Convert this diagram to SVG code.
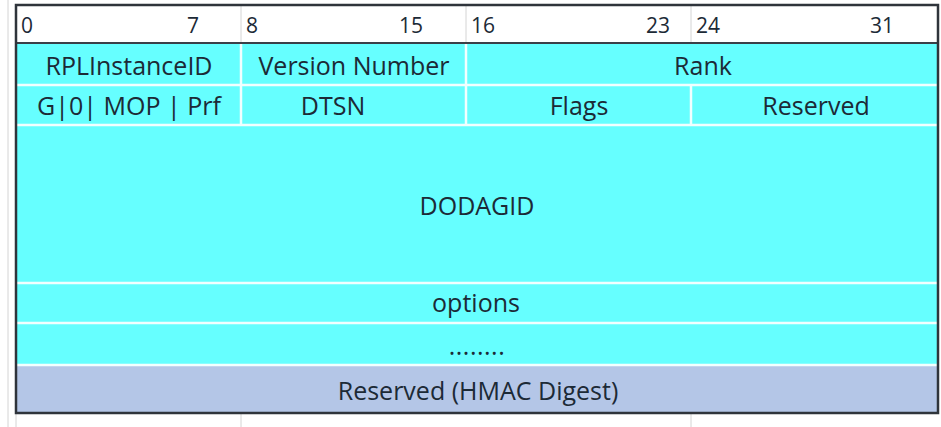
<svg xmlns="http://www.w3.org/2000/svg" width="941" height="427" viewBox="0 0 941 427">
  <style>
    .hdr { fill: #ffffff; }
    .cell { fill: #66ffff; }
    .hmac { fill: #b4c6e7; }
    .sep { stroke: #f2ffff; stroke-width: 2.5; }
    .grid { stroke: #d4d4d4; stroke-width: 1; }
    text { font-family: "Open Sans", Lato, "Liberation Sans", sans-serif; font-size: 25px; fill: #1c2a36; }
    .num { font-size: 21px; }
    .mid { text-anchor: middle; }
    .end { text-anchor: end; }
  </style>

  <!-- page background with faint sheet grid -->
  <rect x="0" y="0" width="941" height="427" fill="#ffffff"/>
  <g id="sheet-grid">
    <line class="grid" x1="8" y1="0" x2="8" y2="427"/>
    <line class="grid" x1="16" y1="413" x2="16" y2="427"/>
    <line class="grid" x1="241" y1="413" x2="241" y2="427"/>
    <line class="grid" x1="691" y1="413" x2="691" y2="427"/>
  </g>

  <!-- bit ruler -->
  <g id="ruler">
    <rect class="hdr" x="16" y="5" width="922" height="38"/>
    <line class="grid" x1="241" y1="5" x2="241" y2="43"/>
    <line class="grid" x1="466" y1="5" x2="466" y2="43"/>
    <line class="grid" x1="691" y1="5" x2="691" y2="43"/>
    <text class="num" x="21" y="33">0</text>
    <text class="num end" x="199" y="33">7</text>
    <text class="num" x="246" y="33">8</text>
    <text class="num end" x="423" y="33">15</text>
    <text class="num" x="471" y="33">16</text>
    <text class="num end" x="670" y="33">23</text>
    <text class="num" x="696" y="33">24</text>
    <text class="num end" x="894" y="33">31</text>
  </g>

  <g id="rplinstanceid">
    <rect class="cell" x="16" y="43" width="225" height="42"/>
    <text class="mid" x="129" y="75">RPLInstanceID</text>
  </g>
  <g id="version-number">
    <rect class="cell" x="241" y="43" width="225" height="42"/>
    <text class="mid" x="354" y="75">Version Number</text>
  </g>
  <g id="rank">
    <rect class="cell" x="466" y="43" width="472" height="42"/>
    <text class="mid" x="703" y="75">Rank</text>
  </g>

  <g id="flags-mop">
    <rect class="cell" x="16" y="85" width="225" height="40"/>
    <text class="mid" x="129" y="115">G|0| MOP | Prf</text>
  </g>
  <g id="dtsn">
    <rect class="cell" x="241" y="85" width="225" height="40"/>
    <text class="mid" x="333" y="115">DTSN</text>
  </g>
  <g id="flags">
    <rect class="cell" x="466" y="85" width="225" height="40"/>
    <text class="mid" x="579" y="115">Flags</text>
  </g>
  <g id="reserved">
    <rect class="cell" x="691" y="85" width="247" height="40"/>
    <text class="mid" x="816" y="115">Reserved</text>
  </g>

  <g id="dodagid">
    <rect class="cell" x="16" y="125" width="922" height="158"/>
    <text class="mid" x="477" y="215">DODAGID</text>
  </g>
  <g id="options">
    <rect class="cell" x="16" y="283" width="922" height="40"/>
    <text class="mid" x="476" y="312">options</text>
  </g>
  <g id="more">
    <rect class="cell" x="16" y="323" width="922" height="42"/>
    <text class="mid" x="477" y="355" letter-spacing="0.5">........</text>
  </g>
  <g id="hmac-digest">
    <rect class="hmac" x="16" y="365" width="922" height="48"/>
    <text class="mid" x="478" y="400">Reserved (HMAC Digest)</text>
  </g>

  <!-- white cell separators -->
  <g id="separators">
    <line class="sep" x1="16" y1="85" x2="938" y2="85"/>
    <line class="sep" x1="16" y1="125" x2="938" y2="125"/>
    <line class="sep" x1="16" y1="283" x2="938" y2="283"/>
    <line class="sep" x1="16" y1="323" x2="938" y2="323"/>
    <line class="sep" x1="16" y1="365" x2="938" y2="365"/>
    <line class="sep" x1="241" y1="43" x2="241" y2="125"/>
    <line class="sep" x1="466" y1="43" x2="466" y2="125"/>
    <line class="sep" x1="691" y1="85" x2="691" y2="125"/>
  </g>

  <!-- outer frame and ruler rule -->
  <line x1="16" y1="43" x2="938" y2="43" stroke="#3a4048" stroke-width="2"/>
  <rect x="16" y="5" width="922" height="408" fill="none" stroke="#2f343b" stroke-width="2.5"/>
</svg>
